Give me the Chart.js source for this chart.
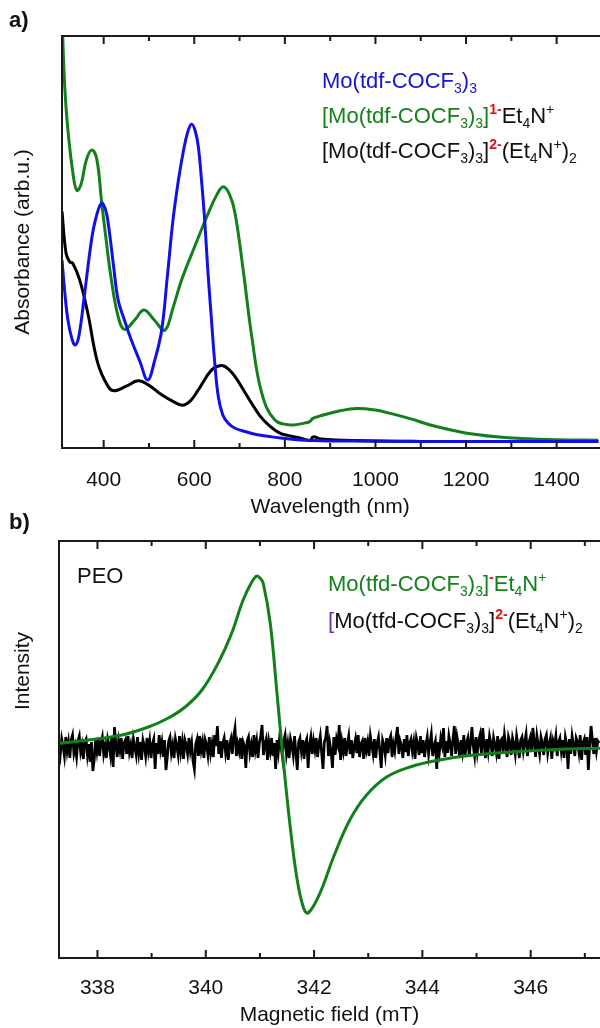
<!DOCTYPE html>
<html>
<head>
<meta charset="utf-8">
<script src="https://cdn.jsdelivr.net/npm/chart.js@4.4.1/dist/chart.umd.min.js"></script>
<style>
  html, body { margin: 0; padding: 0; background: #fff; overflow: hidden; }
  body { width: 600px; height: 1028px; position: relative; font-family: 'Liberation Sans', Arial, sans-serif; color: #111; }
  canvas { position: absolute; left: 0; }
  #uvvis { top: 0; }
  #epr { top: 500px; }
  .txt { position: absolute; white-space: nowrap; font-size: 22px; line-height: 26px; z-index: 2; }
  .txt sub { font-size: 14px; vertical-align: -5px; line-height: 0; }
  .txt sup { font-size: 14px; vertical-align: 9px; line-height: 0; }
  .red { color: #e01010; font-weight: bold; }
  .blue { color: #1414d8; }
  .green { color: #14801a; }
  .purple { color: #7030a0; }
  .panel { font-weight: bold; font-size: 22px; }
  .ytitle { position: absolute; white-space: nowrap; font-size: 21px; transform: translate(-50%, -50%) rotate(-90deg); z-index: 2; }
</style>
</head>
<body>
<canvas id="uvvis" width="600" height="530"></canvas>
<canvas id="epr" width="600" height="528"></canvas>

<div class="txt panel" style="left:9px; top:7px;">a)</div>
<div class="txt panel" style="left:9px; top:509px;">b)</div>
<div class="ytitle" style="left:22px; top:242px;">Absorbance (arb.u.)</div>
<div class="ytitle" style="left:22px; top:671px;">Intensity</div>

<div class="txt blue" style="left:322px; top:68px;">Mo(tdf-COCF<sub>3</sub>)<sub>3</sub></div>
<div class="txt" style="left:322px; top:103px;"><span class="green">[Mo(tdf-COCF<sub>3</sub>)<sub>3</sub>]</span><sup class="red">1-</sup>Et<sub>4</sub>N<sup>+</sup></div>
<div class="txt" style="left:322px; top:138px;">[Mo(tdf-COCF<sub>3</sub>)<sub>3</sub>]<sup class="red">2-</sup>(Et<sub>4</sub>N<sup>+</sup>)<sub>2</sub></div>

<div class="txt" style="left:77px; top:563px;">PEO</div>
<div class="txt green" style="left:328px; top:571px;">Mo(tfd-COCF<sub>3</sub>)<sub>3</sub>]<sup class="red">-</sup>Et<sub>4</sub>N<sup>+</sup></div>
<div class="txt" style="left:328px; top:608px;"><span class="purple">[</span>Mo(tfd-COCF<sub>3</sub>)<sub>3</sub>]<sup class="red">2-</sup>(Et<sub>4</sub>N<sup>+</sup>)<sub>2</sub></div>

<script>
// ---------- a) UV-vis-NIR absorbance ----------
const wlTicks = [400, 600, 800, 1000, 1200, 1400];
const wlMinor = [500, 700, 900, 1100, 1300, 1500];

const neutralWl  = [308, 314, 321, 330, 337, 345, 358, 370, 380, 395, 405, 413, 422, 432, 446, 461, 480, 497, 512, 528, 540, 553, 565, 575, 585, 594, 602, 609, 616, 623, 630, 638, 645, 653, 663, 675, 690, 712, 740, 771, 845, 950, 1100, 1300, 1495];
const neutralAbs = [0.456, 0.38, 0.311, 0.265, 0.250, 0.27, 0.375, 0.48, 0.545, 0.594, 0.575, 0.521, 0.44, 0.359, 0.31, 0.262, 0.21, 0.165, 0.21, 0.286, 0.41, 0.553, 0.65, 0.715, 0.765, 0.786, 0.77, 0.731, 0.65, 0.553, 0.43, 0.311, 0.21, 0.125, 0.08, 0.060, 0.048, 0.040, 0.032, 0.027, 0.019, 0.017, 0.016, 0.016, 0.016];

const monoWl  = [308, 314, 321, 333, 341, 350, 362, 374, 385, 395, 406, 417, 432, 446, 468, 489, 512, 535, 553, 572, 601, 631, 650, 664, 678, 690, 708, 727, 749, 778, 815, 845, 855, 862, 885, 920, 959, 1000, 1033, 1080, 1121, 1202, 1305, 1400, 1495];
const monoAbs = [1.05, 0.877, 0.772, 0.66, 0.625, 0.64, 0.70, 0.723, 0.70, 0.602, 0.50, 0.408, 0.319, 0.288, 0.31, 0.335, 0.31, 0.286, 0.34, 0.408, 0.489, 0.570, 0.615, 0.634, 0.615, 0.570, 0.432, 0.270, 0.133, 0.068, 0.056, 0.061, 0.064, 0.072, 0.08, 0.09, 0.096, 0.092, 0.084, 0.07, 0.056, 0.036, 0.024, 0.02, 0.019];

const diWl  = [308, 317, 325, 332, 347, 365, 387, 410, 424, 450, 476, 500, 528, 555, 575, 592, 609, 638, 660, 675, 690, 708, 727, 745, 764, 789, 808, 835, 856, 862, 880, 950, 1100, 1300, 1495];
const diAbs = [0.574, 0.472, 0.452, 0.448, 0.408, 0.327, 0.206, 0.149, 0.139, 0.150, 0.163, 0.152, 0.129, 0.112, 0.104, 0.115, 0.141, 0.189, 0.200, 0.192, 0.173, 0.142, 0.108, 0.078, 0.056, 0.036, 0.030, 0.024, 0.018, 0.027, 0.022, 0.018, 0.016, 0.016, 0.016];

// ---------- b) EPR ----------
const fieldTicks = [338, 340, 342, 344, 346];
const fieldMinor = [339, 341, 343, 345, 347];

const monoField = [337.29, 337.83, 338.45, 338.94, 339.31, 339.62, 339.93, 340.23, 340.48, 340.69, 340.85, 340.94, 341.0, 341.06, 341.19, 341.31, 341.43, 341.56, 341.68, 341.80, 341.89, 342.11, 342.36, 342.66, 342.97, 343.34, 343.77, 344.32, 344.94, 345.74, 346.54, 347.28];
const monoEpr   = [0.47, 0.8, 1.3, 2.1, 3.0, 4.1, 5.8, 8.5, 11.5, 14.8, 16.6, 17.2, 17.0, 16.5, 12.5, 5.8, -1.2, -7.9, -12.9, -15.9, -16.5, -14.5, -10.9, -7.2, -4.7, -2.9, -1.9, -1.2, -0.7, -0.37, -0.13, -0.03];

const diStart = 337.29;
const diStep = 0.025;
const diEpr = [
  0.5, -0.6, 0.9, 0.2, -0.8, 1.1, -0.3, 0.6, -1.0, 0.8, 1.3, -0.5, 0.2, -0.9, 0.7, 1.2, -0.4, 0.3, -1.1, 0.6,
  0.9, -0.7, 0.4, -1.4, 0.6, -2.3, -1.2, 0.8, -0.3, 1.0, -0.8, 0.5, 1.1, -0.6, 0.2, -1.0, 0.9, 0.3, -0.7, 1.2,
  -1.9, 2.1, 0.4, -0.9, 0.7, -0.2, 1.0, -1.1, 0.5, 0.8, -0.6, 1.2, -0.4, 0.3, -1.0, 0.9, 0.1, -0.7, 1.1, -0.5,
  0.6, -1.2, 0.8, 0.2, -0.8, 1.0, -0.3, 0.7, -1.0, 0.4, 0.9, -2.1, 0.5, -0.6, 1.3, -0.2, 0.6, -0.9, 0.8, -2.2,
  -0.9, 0.7, 1.1, -0.5, 0.3, -1.0, 0.9, 0.2, -0.7, 1.2, -0.4, 0.6, -1.1, 0.8, 0.3, -0.6, 1.0, -0.3, 0.5, -1.3,
  -2.1, 0.4, 0.9, -0.8, 1.2, -0.2, 0.6, -1.0, 0.8, 0.3, -0.7, 1.1, -0.5, 0.4, -0.9, 1.3, 0.2, 2.2, -0.6, 0.7,
  -1.0, 0.5, 1.0, -0.4, 0.8, -1.2, 0.3, 0.9, -0.6, 1.2, 2.0, -0.8, 0.4, -0.3, 1.0, -1.1, 0.6, 0.2, -2.0, 0.7,
  1.1, -0.5, 0.3, -0.9, 1.3, -0.2, 0.7, -1.0, 0.5, 1.2, 2.3, -0.7, 0.4, 0.9, -1.2, 0.6, -0.3, 1.0, -0.8, 0.5,
  -2.1, 0.8, -0.4, 1.1, 0.2, -0.9, 0.7, 1.3, -0.6, 0.4, -1.0, 0.9, 0.3, -0.7, 1.2, -0.5, -2.2, 0.6, 1.0, -0.3,
  0.8, -1.1, 0.5, 0.9, -2.0, 0.3, 1.1, -0.6, 0.7, -0.2, 1.0, -0.9, 0.4, 1.2, -0.5, -2.1, 0.6, 1.0, 2.2, -0.8,
  0.5, -0.4, -2.0, 1.1, -0.7, 0.9, 0.3, 2.3, -1.2, 0.6, -0.3, 1.0, -0.8, 0.4, 1.2, -0.6, 0.8, -1.0, 0.2, 0.9,
  -0.5, 1.3, -0.9, 0.4, 0.7, -1.1, 1.0, -0.2, 0.6, -0.8, 1.2, 0.3, -0.6, 0.9, -1.0, 0.5, 1.1, -0.4, -2.0, 0.8,
  0.3, -0.7, 1.0, -0.5, 0.8, 1.2, -0.9, 0.4, -0.3, 1.1, 2.1, -0.6, 0.7, 0.2, -1.0, 0.9, -0.4, 1.3, -0.8, 0.5,
  0.9, -0.3, 0.6, -1.1, 1.0, 0.4, -0.7, 1.2, -0.5, 0.8, -0.9, 0.3, 1.1, -0.6, 0.5, 1.4, -0.8, 0.2, 0.7, -2.1,
  0.6, -0.4, 1.0, 0.3, 2.0, -0.9, 0.7, -0.5, 1.2, 0.4, -0.8, 0.9, 2.2, -0.6, 1.1, 0.3, -1.0, 0.8, -0.3, 1.3,
  -0.7, 0.5, 1.0, -0.9, 0.6, 2.1, 0.2, -0.8, 1.1, -0.4, 0.7, 1.3, -0.6, 2.0, 0.4, -1.0, 0.9, -0.3, 1.2, 0.5,
  -0.8, 1.0, 0.3, -0.5, 1.2, -1.1, 0.7, 0.9, -0.4, 1.3, 0.2, -0.9, 1.1, 0.6, -0.7, 1.0, 0.4, -0.6, 1.2, 0.3,
  -1.0, 0.8, 1.1, -0.3, 0.6, 1.4, -0.8, 0.5, 1.0, -0.4, 2.0, 0.7, -0.9, 1.2, 0.3, -0.6, 1.1, 0.5, -0.7, 0.9,
  1.3, -0.5, 0.4, 1.0, -1.1, 0.7, 0.2, 1.2, -0.8, 0.6, 1.0, -0.3, 0.8, -1.0, 1.1, 0.4, -2.1, 0.9, -0.6, 1.2,
  0.3, -0.8, 1.0, 0.6, -0.4, 1.3, -1.2, 0.5, 0.9, -0.7, 1.1, -2.2, 0.4, 2.2, 0.8, -0.6, 1.0, -0.3, 0.7, 0.5
];

const FONT = "'Liberation Sans', Arial, sans-serif";
const pts = (xs, ys) => xs.map((x, i) => ({ x: x, y: ys[i] }));

// frame on left/top/bottom + inward ticks top and bottom
function framePlugin(major, minor) {
  return {
    id: 'frame',
    afterDraw(chart) {
      const { ctx, chartArea: a } = chart;
      const xs = chart.scales.x;
      ctx.save();
      ctx.strokeStyle = '#1a1a1a';
      ctx.lineWidth = 2;
      ctx.beginPath();
      ctx.moveTo(a.right + 2, a.top); ctx.lineTo(a.left, a.top);
      ctx.lineTo(a.left, a.bottom); ctx.lineTo(a.right + 2, a.bottom);
      ctx.stroke();
      const tick = (v, len) => {
        const px = xs.getPixelForValue(v);
        if (px < a.left || px > a.right + 1) return;
        ctx.beginPath();
        ctx.moveTo(px, a.bottom); ctx.lineTo(px, a.bottom - len);
        ctx.moveTo(px, a.top); ctx.lineTo(px, a.top + len);
        ctx.stroke();
      };
      major.forEach(v => tick(v, 8));
      minor.forEach(v => tick(v, 5));
      ctx.restore();
    }
  };
}

function xAxis(min, max, ticks, title, height, tickPad, titlePad) {
  return {
    type: 'linear', min: min, max: max,
    afterBuildTicks: s => { s.ticks = ticks.map(v => ({ value: v })); },
    afterFit: s => { s.height = height; },
    grid: { display: false, drawTicks: false },
    border: { display: false },
    ticks: { color: '#111', font: { family: FONT, size: 21 }, padding: tickPad, maxRotation: 0, callback: v => String(v) },
    title: { display: true, text: title, color: '#111', font: { family: FONT, size: 21 }, padding: { top: 0, bottom: titlePad } }
  };
}

const curve = (xs, ys, color) => ({ data: pts(xs, ys), borderColor: color, borderWidth: 3, pointRadius: 0, tension: 0.4 });

new Chart(document.getElementById('uvvis'), {
  type: 'line',
  data: {
    datasets: [
      curve(neutralWl, neutralAbs, '#1010e8'),
      curve(monoWl, monoAbs, '#12801a'),
      curve(diWl, diAbs, '#000')
    ]
  },
  options: {
    responsive: false, animation: false, events: [],
    layout: { padding: { left: 62, top: 36, right: 0, bottom: 0 } },
    plugins: { legend: { display: false }, tooltip: { enabled: false } },
    scales: {
      x: xAxis(308, 1492, wlTicks, 'Wavelength (nm)', 82, 20, 10),
      y: { display: false, min: 0, max: 1 }
    }
  },
  plugins: [framePlugin(wlTicks, wlMinor)]
});

new Chart(document.getElementById('epr'), {
  type: 'line',
  data: {
    datasets: [
      curve(monoField, monoEpr, '#12801a'),
      { data: diEpr.map((v, i) => ({ x: diStart + i * diStep, y: v })), borderColor: '#000', borderWidth: 2.7, pointRadius: 0, tension: 0 }
    ]
  },
  options: {
    responsive: false, animation: false, events: [],
    layout: { padding: { left: 59, top: 41, right: 0, bottom: 0 } },
    plugins: { legend: { display: false }, tooltip: { enabled: false } },
    scales: {
      x: xAxis(337.29, 347.28, fieldTicks, 'Magnetic field (mT)', 70, 18, 0),
      y: { display: false, min: -21.0, max: 20.7 }
    }
  },
  plugins: [framePlugin(fieldTicks, fieldMinor)]
});
</script>
</body>
</html>
